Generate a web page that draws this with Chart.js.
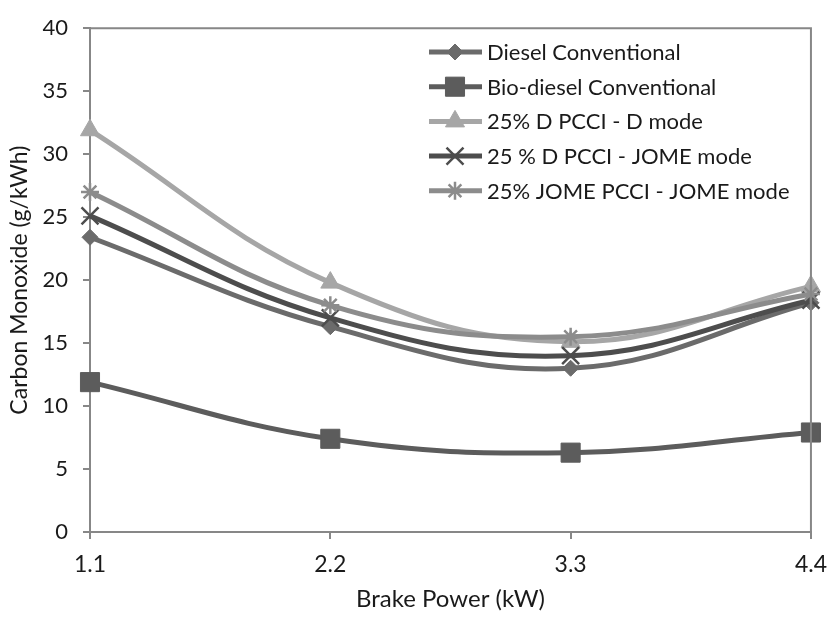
<!DOCTYPE html>
<html>
<head>
<meta charset="utf-8">
<script src="https://cdn.jsdelivr.net/npm/chart.js@4.4.1/dist/chart.umd.min.js"></script>
<style>
  html, body { margin: 0; padding: 0; background: #ffffff; }
  #wrap { width: 839px; height: 621px; position: relative; }
</style>
</head>
<body>
<div id="wrap"><canvas id="c" width="839" height="621"></canvas></div>
<script>
// ---- data ----
const categories = ['1.1', '2.2', '3.3', '4.4'];
const seriesNames = [
  'Diesel Conventional',
  'Bio-diesel Conventional',
  '25% D PCCI - D mode',
  '25 % D PCCI - JOME mode',
  '25% JOME PCCI - JOME mode'
];
const dieselConventional    = [23.4, 16.3, 13.0, 18.2];
const biodieselConventional = [11.9, 7.4, 6.3, 7.9];
const dPcciDMode            = [31.9, 19.8, 15.1, 19.5];
const dPcciJomeMode         = [25.1, 17.0, 14.0, 18.4];
const jomePcciJomeMode      = [27.0, 18.0, 15.5, 18.9];
const yTicks = [0, 5, 10, 15, 20, 25, 30, 35, 40];

const seriesValues = [dieselConventional, biodieselConventional, dPcciDMode, dPcciJomeMode, jomePcciJomeMode];
const colors = ['#6b6b6b', '#5c5c5c', '#a6a6a6', '#4d4d4d', '#8c8c8c'];
const styles = [
  { pointStyle: 'rectRot', radius: 8, bw: 1 },
  { pointStyle: 'rect', radius: 13.5, bw: 1 },
  { pointStyle: 'triangle', radius: 11, bw: 1 },
  { pointStyle: 'crossRot', radius: 12, bw: 2.5 },
  { pointStyle: 'star', radius: 9, bw: 2.5 }
];

const FONT = 'Lato, "Open Sans", sans-serif';
const AXIS_COLOR = '#878787';
const TEXT_COLOR = '#1a1a1a';

const datasets = seriesValues.map((vals, i) => ({
  label: seriesNames[i],
  data: vals,
  borderColor: colors[i],
  backgroundColor: colors[i],
  borderWidth: 5,
  tension: 0.4,
  fill: false,
  clip: false,
  order: seriesValues.length - i,
  pointStyle: styles[i].pointStyle,
  pointRadius: styles[i].radius,
  pointBorderWidth: styles[i].bw,
  pointBackgroundColor: colors[i],
  pointBorderColor: colors[i],
  pointHoverRadius: styles[i].radius
}));

const frame = {
  id: 'frame',
  afterDatasetsDraw(chart) {
    const a = chart.chartArea;
    const ctx = chart.ctx;
    ctx.save();
    ctx.strokeStyle = AXIS_COLOR;
    ctx.lineWidth = 2;
    ctx.beginPath();
    ctx.moveTo(a.left, a.top);
    ctx.lineTo(a.right, a.top);
    ctx.lineTo(a.right, a.bottom);
    ctx.stroke();
    ctx.restore();
  },
  afterDraw(chart) {
    const ctx = chart.ctx;
    ctx.save();
    const x0 = 429, x1 = 482, xm = 455, tx = 487, y0 = 52, dy = 34.7;
    chart.data.datasets.forEach((ds, i) => {
      const y = y0 + i * dy;
      ctx.strokeStyle = ds.borderColor;
      ctx.lineWidth = 5;
      ctx.lineCap = 'butt';
      ctx.beginPath();
      ctx.moveTo(x0, y);
      ctx.lineTo(x1, y);
      ctx.stroke();
      ctx.fillStyle = ds.borderColor;
      ctx.strokeStyle = ds.borderColor;
      ctx.lineWidth = ds.pointBorderWidth;
      Chart.helpers.drawPoint(ctx, {
        pointStyle: ds.pointStyle,
        radius: ds.pointRadius,
        rotation: 0,
        borderWidth: ds.pointBorderWidth
      }, xm, y);
      ctx.fillStyle = TEXT_COLOR;
      ctx.font = '22px ' + FONT;
      ctx.textAlign = 'left';
      ctx.textBaseline = 'middle';
      ctx.fillText(ds.label, tx, y + 1);
    });
    ctx.restore();
  }
};

new Chart(document.getElementById('c'), {
  type: 'line',
  data: { labels: categories, datasets },
  options: {
    responsive: false,
    animation: false,
    devicePixelRatio: 1,
    layout: { padding: { left: 0, top: 17, right: 21, bottom: 0 } },
    plugins: {
      legend: { display: false },
      tooltip: { enabled: false }
    },
    scales: {
      x: {
        type: 'category',
        offset: false,
        grid: { drawOnChartArea: false, drawTicks: true, tickLength: 7, color: AXIS_COLOR, lineWidth: 2 },
        border: { color: AXIS_COLOR, width: 2 },
        ticks: { color: TEXT_COLOR, font: { family: FONT, size: 23 }, padding: 12, maxRotation: 0 },
        title: { display: true, text: 'Brake Power (kW)', color: TEXT_COLOR, font: { family: FONT, size: 24 }, padding: { top: 0, bottom: 7 } },
        afterFit(scale) { scale.height = 89; }
      },
      y: {
        min: 0,
        max: 40,
        afterBuildTicks(scale) { scale.ticks = yTicks.map(v => ({ value: v })); },
        grid: { drawOnChartArea: false, drawTicks: true, tickLength: 7, color: AXIS_COLOR, lineWidth: 2 },
        border: { color: AXIS_COLOR, width: 2 },
        ticks: { color: TEXT_COLOR, font: { family: FONT, size: 22 }, padding: 15 },
        title: { display: true, text: 'Carbon Monoxide (g/kWh)', color: TEXT_COLOR, font: { family: FONT, size: 23 }, padding: { top: 6, bottom: 0 } },
        afterFit(scale) { scale.width = 90; }
      }
    }
  },
  plugins: [frame]
});
</script>
</body>
</html>
